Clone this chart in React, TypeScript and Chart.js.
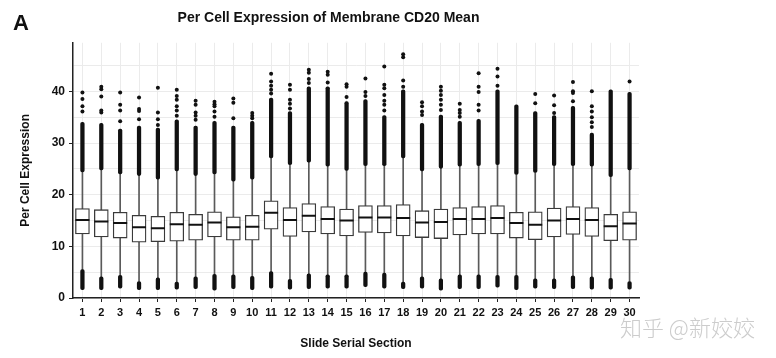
import React, { useEffect, useRef } from 'react';
import { Chart, registerables } from 'chart.js';

Chart.register(...registerables);

const categories = ['1', '2', '3', '4', '5', '6', '7', '8', '9', '10', '11', '12', '13', '14', '15', '16', '17', '18', '19', '20', '21', '22', '23', '24', '25', '26', '27', '28', '29', '30'];

const q1 = [12.4, 11.8, 11.6, 10.8, 10.9, 11.0, 11.2, 11.8, 11.2, 11.2, 13.3, 11.9, 12.8, 12.4, 12.0, 12.7, 12.6, 12.0, 11.7, 11.5, 12.2, 12.4, 12.4, 11.6, 11.3, 11.8, 12.3, 11.9, 11.1, 11.2];
const medians = [15.1, 14.8, 14.5, 13.7, 13.5, 14.3, 14.2, 14.6, 13.7, 13.8, 16.5, 15.1, 15.9, 15.3, 15.0, 15.6, 15.6, 15.5, 14.6, 14.7, 15.3, 15.3, 15.5, 14.5, 14.2, 15.0, 15.3, 15.1, 13.9, 14.4];
const q3 = [17.3, 17.1, 16.6, 16.0, 15.8, 16.6, 16.2, 16.7, 15.7, 16.0, 18.8, 17.5, 18.3, 17.7, 17.2, 17.9, 17.9, 18.1, 16.9, 17.2, 17.5, 17.7, 17.9, 16.6, 16.7, 17.4, 17.7, 17.5, 16.2, 16.7];

const lowerWhisker = [5.5, 4.1, 4.4, 3.2, 3.9, 3.1, 4.1, 4.6, 4.5, 4.2, 5.1, 3.6, 4.7, 4.5, 4.5, 5.0, 4.8, 3.1, 4.1, 3.7, 4.5, 4.5, 4.4, 4.4, 3.7, 3.7, 4.3, 4.1, 3.8, 3.2];
const lowerOutlierMin = [1.6, 1.6, 1.9, 1.6, 1.6, 1.7, 1.8, 1.5, 1.8, 1.6, 1.9, 1.7, 1.8, 1.9, 1.9, 2.2, 1.9, 1.8, 1.9, 1.5, 1.8, 1.8, 2.1, 1.6, 1.9, 1.8, 1.8, 1.7, 1.7, 1.7];
const upperWhisker = [24.4, 24.8, 24.0, 23.7, 23.0, 24.6, 23.7, 24.0, 22.6, 23.0, 27.1, 25.8, 26.3, 25.5, 24.7, 25.6, 25.6, 27.1, 24.6, 25.1, 25.5, 25.6, 25.8, 23.9, 24.3, 25.6, 25.6, 25.5, 23.5, 24.8];
const upperOutlierDenseMax = [34.0, 33.8, 32.7, 33.3, 32.9, 34.5, 33.3, 34.2, 33.3, 34.2, 38.7, 36.1, 40.9, 40.9, 38.0, 38.4, 35.3, 40.3, 33.8, 35.4, 34.2, 34.6, 40.3, 37.4, 36.1, 35.3, 37.1, 31.9, 40.3, 39.8];

const sparseOutliers = [
  [36.1, 37.1, 38.5, 39.8],
  [35.9, 36.3, 39.0, 40.4, 40.9],
  [34.2, 36.3, 37.4, 39.8],
  [34.6, 36.2, 36.6, 38.8],
  [33.5, 34.6, 35.9, 40.7],
  [35.3, 36.3, 37.1, 38.4, 39.1, 40.3],
  [34.5, 35.3, 35.9, 37.4, 38.2],
  [35.1, 36.1, 37.1, 37.5, 38.0],
  [34.8, 37.8, 38.6],
  [34.8, 35.3, 35.8],
  [39.6, 40.3, 41.1, 41.9, 43.4],
  [36.7, 37.6, 38.4, 40.3, 41.3],
  [41.6, 42.4, 43.6, 44.2],
  [41.7, 43.2, 43.8],
  [38.9, 40.9, 41.4],
  [39.1, 39.9, 42.5],
  [36.3, 37.4, 38.2, 39.3, 40.6, 41.3, 44.8],
  [40.9, 42.1, 46.6, 47.2],
  [35.4, 36.1, 37.1, 37.9],
  [36.4, 37.4, 38.4, 39.3, 40.1, 40.9],
  [35.1, 35.8, 36.4, 37.6],
  [36.3, 37.4, 39.9, 40.9, 43.5],
  [41.1, 42.9, 44.4],
  [],
  [37.7, 39.5],
  [35.8, 37.3, 39.2],
  [38.1, 39.7, 40.0, 41.8],
  [33.1, 34.0, 35.0, 36.1, 37.1, 40.0],
  [],
  [41.9],
];

const FONT = '"Liberation Sans", Arial, Helvetica, sans-serif';

export default function App() {
  const ref = useRef<HTMLCanvasElement>(null);

  useEffect(() => {
    document.body.style.margin = '0';
    if (!ref.current) return;
    Chart.defaults.font.family = FONT;

    const outlierPoints = sparseOutliers.flatMap((vals, i) =>
      vals.map((v) => ({ x: categories[i], y: v }))
    );

    const chart = new Chart(ref.current, {
      type: 'bar',
      data: {
        labels: categories,
        datasets: [
          {
            type: 'line',
            label: 'median',
            data: medians,
            showLine: false,
            pointStyle: 'line',
            pointRadius: 7,
            pointHoverRadius: 7,
            pointBorderWidth: 2,
            pointBorderColor: '#111',
            pointBackgroundColor: '#111',
            order: 1,
          } as any,
          {
            type: 'line',
            label: 'outliers',
            data: outlierPoints,
            showLine: false,
            pointRadius: 2,
            pointHoverRadius: 2,
            pointBorderWidth: 0,
            pointBackgroundColor: '#111',
            order: 1,
          } as any,
          {
            type: 'bar',
            label: 'box',
            data: q1.map((v, i) => [v, q3[i]]),
            backgroundColor: '#ffffff',
            borderColor: '#3a3a3a',
            borderWidth: 1.3,
            borderSkipped: false,
            barThickness: 14,
            grouped: false,
            order: 2,
          } as any,
          {
            type: 'bar',
            label: 'upper outliers',
            data: upperWhisker.map((v, i) => [v, upperOutlierDenseMax[i]]),
            backgroundColor: '#111',
            barThickness: 3.6,
            borderRadius: 2,
            borderSkipped: false,
            grouped: false,
            order: 3,
          } as any,
          {
            type: 'bar',
            label: 'lower outliers',
            data: lowerOutlierMin.map((v, i) => [v, lowerWhisker[i]]),
            backgroundColor: '#111',
            barThickness: 3.6,
            borderRadius: 2,
            borderSkipped: false,
            grouped: false,
            order: 3,
          } as any,
          {
            type: 'bar',
            label: 'whisker',
            data: lowerWhisker.map((v, i) => [v, upperWhisker[i]]),
            backgroundColor: '#5a5a5a',
            barThickness: 1,
            grouped: false,
            order: 4,
          } as any,
        ],
      },
      options: {
        animation: false,
        responsive: false,
        events: [],
        layout: { padding: { left: 18, right: 137, top: 0, bottom: 0 } },
        plugins: {
          legend: { display: false },
          tooltip: { enabled: false },
          title: {
            display: true,
            text: 'Per Cell Expression of Membrane CD20 Mean',
            color: '#111',
            font: { size: 14, weight: 'bold', family: FONT },
            padding: { top: 10, bottom: 16 },
          },
        },
        scales: {
          x: {
            offset: true,
            grid: {
              offset: false,
              color: '#ebebeb',
              tickColor: '#222',
              tickLength: 4,
              lineWidth: 1,
            },
            border: { color: '#222', width: 1.5 },
            ticks: {
              color: '#111',
              font: { size: 11, weight: 'bold', family: FONT },
              autoSkip: false,
              maxRotation: 0,
              padding: 4,
            },
            title: {
              display: true,
              text: 'Slide Serial Section',
              color: '#111',
              font: { size: 12, weight: 'bold', family: FONT },
              padding: { top: 4, bottom: 7 },
            },
            afterFit: (s: any) => {
              s.height = 60;
            },
          },
          y: {
            min: 0,
            max: 49.4,
            grid: {
              color: '#ebebeb',
              lineWidth: 1,
              tickLength: 4,
              tickColor: (ctx: any) => (ctx.tick && ctx.tick.value % 10 === 0 ? '#222' : 'rgba(0,0,0,0)'),
            },
            border: { color: '#222', width: 1.5 },
            ticks: {
              stepSize: 5,
              includeBounds: false,
              color: '#111',
              padding: 4,
              font: { size: 12, weight: 'bold', family: FONT },
              callback: (v: any) => (Number(v) % 10 === 0 ? String(v) : ''),
            },
            title: {
              display: true,
              text: 'Per Cell Expression',
              color: '#111',
              font: { size: 12, weight: 'bold', family: FONT },
              padding: 0,
            },
            afterFit: (s: any) => {
              s.width = 55;
            },
          },
        },
      } as any,
    });

    return () => chart.destroy();
  }, []);

  return (
    <div style={{ position: 'relative', width: 776, height: 358, background: '#fff' }}>
      <canvas ref={ref} width={776} height={358} style={{ display: 'block' }} />
      <div
        style={{
          position: 'absolute',
          left: 13,
          top: 12,
          fontFamily: FONT,
          fontWeight: 'bold',
          fontSize: 22,
          lineHeight: '22px',
          color: '#111',
        }}
      >
        A
      </div>
      <div
        style={{
          position: 'absolute',
          left: 620,
          top: 313,
          fontFamily: '"Noto Sans CJK SC", sans-serif',
          fontWeight: 300,
          fontSize: 22,
          lineHeight: '26px',
          color: '#cccccc',
          whiteSpace: 'nowrap',
        }}
      >
        知乎 @新姣姣
      </div>
    </div>
  );
}
